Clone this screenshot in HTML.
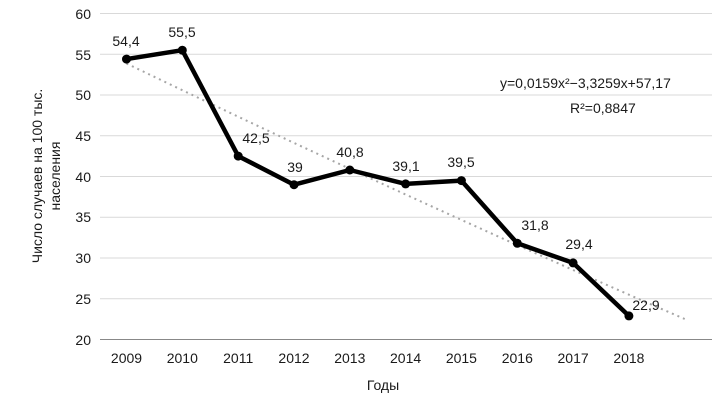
<!DOCTYPE html>
<html><head><meta charset="utf-8"><style>
html,body{margin:0;padding:0;background:#fff;}
svg{display:block;}
text{font-family:"Liberation Sans",sans-serif;font-size:14px;fill:#1a1a1a;}
</style></head><body>
<svg width="728" height="402" viewBox="0 0 728 402" xmlns="http://www.w3.org/2000/svg">
<g stroke="#d9d9d9" stroke-width="1">
<line x1="100" x2="712" y1="13.5" y2="13.5"/>
<line x1="100" x2="712" y1="54.3" y2="54.3"/>
<line x1="100" x2="712" y1="95" y2="95"/>
<line x1="100" x2="712" y1="135.8" y2="135.8"/>
<line x1="100" x2="712" y1="176.5" y2="176.5"/>
<line x1="100" x2="712" y1="217.3" y2="217.3"/>
<line x1="100" x2="712" y1="258" y2="258"/>
<line x1="100" x2="712" y1="298.8" y2="298.8"/>
</g>
<line x1="100" x2="712" y1="339.5" y2="339.5" stroke="#888" stroke-width="1"/>
<g text-anchor="end">
<text x="91" y="19">60</text><text x="91" y="60">55</text><text x="91" y="100">50</text><text x="91" y="141">45</text><text x="91" y="182">40</text><text x="91" y="222">35</text><text x="91" y="263">30</text><text x="91" y="304">25</text><text x="91" y="345">20</text>
</g>
<g text-anchor="middle">
<text x="126.5" y="363">2009</text><text x="182.3" y="363">2010</text><text x="238.2" y="363">2011</text><text x="294" y="363">2012</text><text x="349.8" y="363">2013</text><text x="405.6" y="363">2014</text><text x="461.4" y="363">2015</text><text x="517.3" y="363">2016</text><text x="573.1" y="363">2017</text><text x="628.9" y="363">2018</text>
<text x="383" y="390">Годы</text>
<text transform="translate(42,176) rotate(-90)">Число случаев на 100 тыс.</text>
<text transform="translate(60,176) rotate(-90)">населения</text>
</g>
<polyline points="126.5,63.5 182.3,90.2 238.2,116.7 294,142.9 349.8,168.8 405.6,194.5 461.4,219.9 517.3,245.1 573.1,270 628.9,294.7 684.7,319" fill="none" stroke="#a6a6a6" stroke-width="2" stroke-dasharray="2,4"/>
<polyline points="126.5,59.1 182.3,50.2 238.2,156.1 294,184.7 349.8,170 405.6,183.9 461.4,180.6 517.3,243.3 573.1,262.9 628.9,315.9" fill="none" stroke="#000" stroke-width="4.5" stroke-linejoin="round"/>
<g fill="#000">
<circle cx="126.5" cy="59.1" r="4.5"/><circle cx="182.3" cy="50.2" r="4.5"/><circle cx="238.2" cy="156.1" r="4.5"/><circle cx="294" cy="184.7" r="4.5"/><circle cx="349.8" cy="170" r="4.5"/><circle cx="405.6" cy="183.9" r="4.5"/><circle cx="461.4" cy="180.6" r="4.5"/><circle cx="517.3" cy="243.3" r="4.5"/><circle cx="573.1" cy="262.9" r="4.5"/><circle cx="628.9" cy="315.9" r="4.5"/>
</g>
<g text-anchor="middle">
<text x="126" y="46">54,4</text><text x="182" y="37">55,5</text><text x="256" y="143">42,5</text><text x="295" y="172">39</text><text x="350" y="157">40,8</text><text x="406" y="171">39,1</text><text x="461" y="167">39,5</text><text x="535" y="230">31,8</text><text x="579" y="249">29,4</text><text x="646" y="310">22,9</text>
</g>
<text x="500" y="88">y=0,0159x²−3,3259x+57,17</text>
<text x="570" y="113">R²=0,8847</text>
</svg>
</body></html>
